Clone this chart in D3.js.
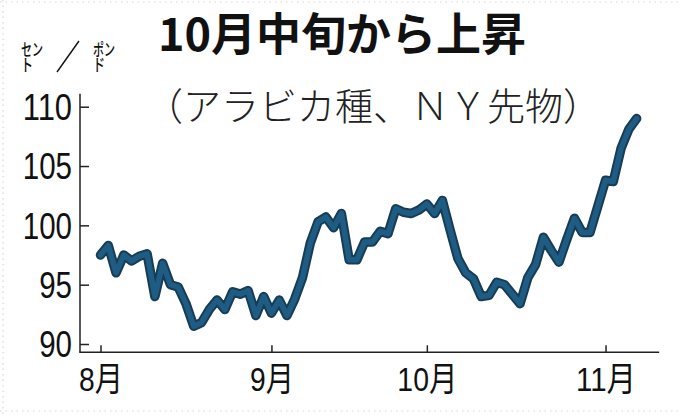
<!DOCTYPE html>
<html><head><meta charset="utf-8">
<script src="https://cdn.jsdelivr.net/npm/d3@7"></script>
<style>
html,body{margin:0;padding:0;background:#fff;}
svg{display:block;}
</style></head>
<body>
<svg id="c" width="680" height="417"></svg>
<script>
// ---- data ----
const title = "10月中旬から上昇";
const subtitle = "（アラビカ種、ＮＹ先物）";
const unitTop = ["セン", "ポン"];
const unitBottom = ["ト", "ド"];
// daily settlement (cents / pound), one per trading day from Aug 1
const prices = [97.5,98.3,96.0,97.5,97.0,97.4,97.6,94.0,96.8,95.0,
  94.8,93.4,91.5,91.8,92.9,93.7,92.9,94.4,94.2,94.5,
  92.4,94.0,92.6,93.7,92.4,93.8,95.6,98.5,100.3,100.7,
  99.8,101.0,97.1,97.1,98.6,98.6,99.5,99.3,101.4,101.1,
  101.0,101.3,101.8,101.0,102.1,99.6,97.2,96.0,95.5,94.0,
  94.1,95.2,95.0,94.2,93.4,95.6,96.7,99.0,97.9,96.9,
  98.8,100.6,99.4,99.4,101.6,103.8,103.7,106.5,108.1,109.0];
const monthLabels = ["8月","9月","10月","11月"];
const monthTickIdx = [0,22,42,65];   // trading-day index of first session of each month
const yTicks = [90,95,100,105,110];

// ---- drawing ----
const svg = d3.select("#c");
const W = 680, H = 417;

// faint dotted frame (watermark border)
const frame = svg.append("g").attr("stroke","#d8d8d8").attr("stroke-width",1.2).attr("stroke-dasharray","1.5,4");
frame.append("line").attr("x1",0).attr("x2",W).attr("y1",2).attr("y2",2);
frame.append("line").attr("x1",0).attr("x2",W).attr("y1",411).attr("y2",411);
frame.append("line").attr("x1",3).attr("x2",3).attr("y1",0).attr("y2",H);

const x = d3.scaleLinear().domain([0, prices.length-1]).range([100.5, 100.5 + 69*7.77]);
const y = d3.scaleLinear().domain([90,110]).range([344,106.7]);

const cjk = "'Noto Sans CJK JP','Noto Sans CJK SC',sans-serif";
const num = "'Liberation Sans','Noto Sans CJK JP',sans-serif";

// title
svg.append("text").attr("x",342).attr("y",51).attr("text-anchor","middle")
  .attr("font-family",cjk).attr("font-weight",700).attr("font-size",45).attr("fill","#111")
  .text(title);
svg.append("text").attr("x",145).attr("y",120)
  .attr("font-family",cjk).attr("font-weight",300).attr("font-size",38).attr("fill","#222")
  .text(subtitle);

// unit label (stacked, condensed)
const ug = svg.append("g").attr("font-family",cjk).attr("font-size",17).attr("font-weight",500).attr("fill","#111");
[21, 93].forEach((ux, k) => {
  const t = ug.append("text").attr("x",ux).attr("y",56);
  t.append("tspan").attr("x",ux).attr("y",56).text(unitTop[k])
    .attr("textLength",22).attr("lengthAdjust","spacingAndGlyphs");
  t.append("tspan").attr("x",ux).attr("y",70.5).text(unitBottom[k])
    .attr("textLength",12).attr("lengthAdjust","spacingAndGlyphs");
});
svg.append("line").attr("x1",57).attr("y1",72).attr("x2",79).attr("y2",41).attr("stroke","#111").attr("stroke-width",1.4);

// y axis
const yAxis = d3.axisLeft(y).tickValues(yTicks).tickSizeInner(-9).tickSizeOuter(0).tickPadding(5);
const gy = svg.append("g").attr("transform","translate(80,0)").call(yAxis);
gy.select(".domain").remove();
gy.selectAll(".tick line").attr("stroke","#222").attr("stroke-width",1.5);
gy.selectAll(".tick text").attr("font-family",num).attr("font-size",36).attr("fill","#111")
  .attr("x",-8).attr("dy","0.36em")
  .attr("textLength",d=>String(d).length*16.4).attr("lengthAdjust","spacingAndGlyphs");
svg.append("line").attr("x1",80).attr("x2",80).attr("y1",y(111.1)).attr("y2",y(89.3))
  .attr("stroke","#222").attr("stroke-width",1.5);

// x axis
const xAxis = d3.axisBottom(x).tickValues(monthTickIdx).tickFormat((d,i)=>monthLabels[i])
  .tickSizeInner(-7).tickSizeOuter(0).tickPadding(0);
const gx = svg.append("g").attr("transform",`translate(0,${y(89.3)})`).call(xAxis);
gx.select(".domain").remove();
gx.selectAll(".tick line").attr("stroke","#222").attr("stroke-width",1.5);
gx.selectAll(".tick text").attr("font-family",num).attr("font-size",34).attr("fill","#111")
  .attr("y",39).attr("dy",0)
  .attr("textLength",(d,i)=>monthLabels[i].length*16+12).attr("lengthAdjust","spacingAndGlyphs");
svg.append("line").attr("x1",79.25).attr("x2",x(71.9)).attr("y1",y(89.3)).attr("y2",y(89.3))
  .attr("stroke","#222").attr("stroke-width",1.5);

// price line
const line = d3.line().x((d,i)=>x(i)).y(d=>y(d)).curve(d3.curveLinear);
svg.append("path").datum(prices).attr("d",line).attr("fill","none")
  .attr("stroke","#173d55").attr("stroke-width",9.5).attr("stroke-linejoin","round").attr("stroke-linecap","round");
svg.append("path").datum(prices).attr("d",line).attr("fill","none")
  .attr("stroke","#1f5c84").attr("stroke-width",5.5).attr("stroke-linejoin","round").attr("stroke-linecap","round");
</script>
</body></html>
